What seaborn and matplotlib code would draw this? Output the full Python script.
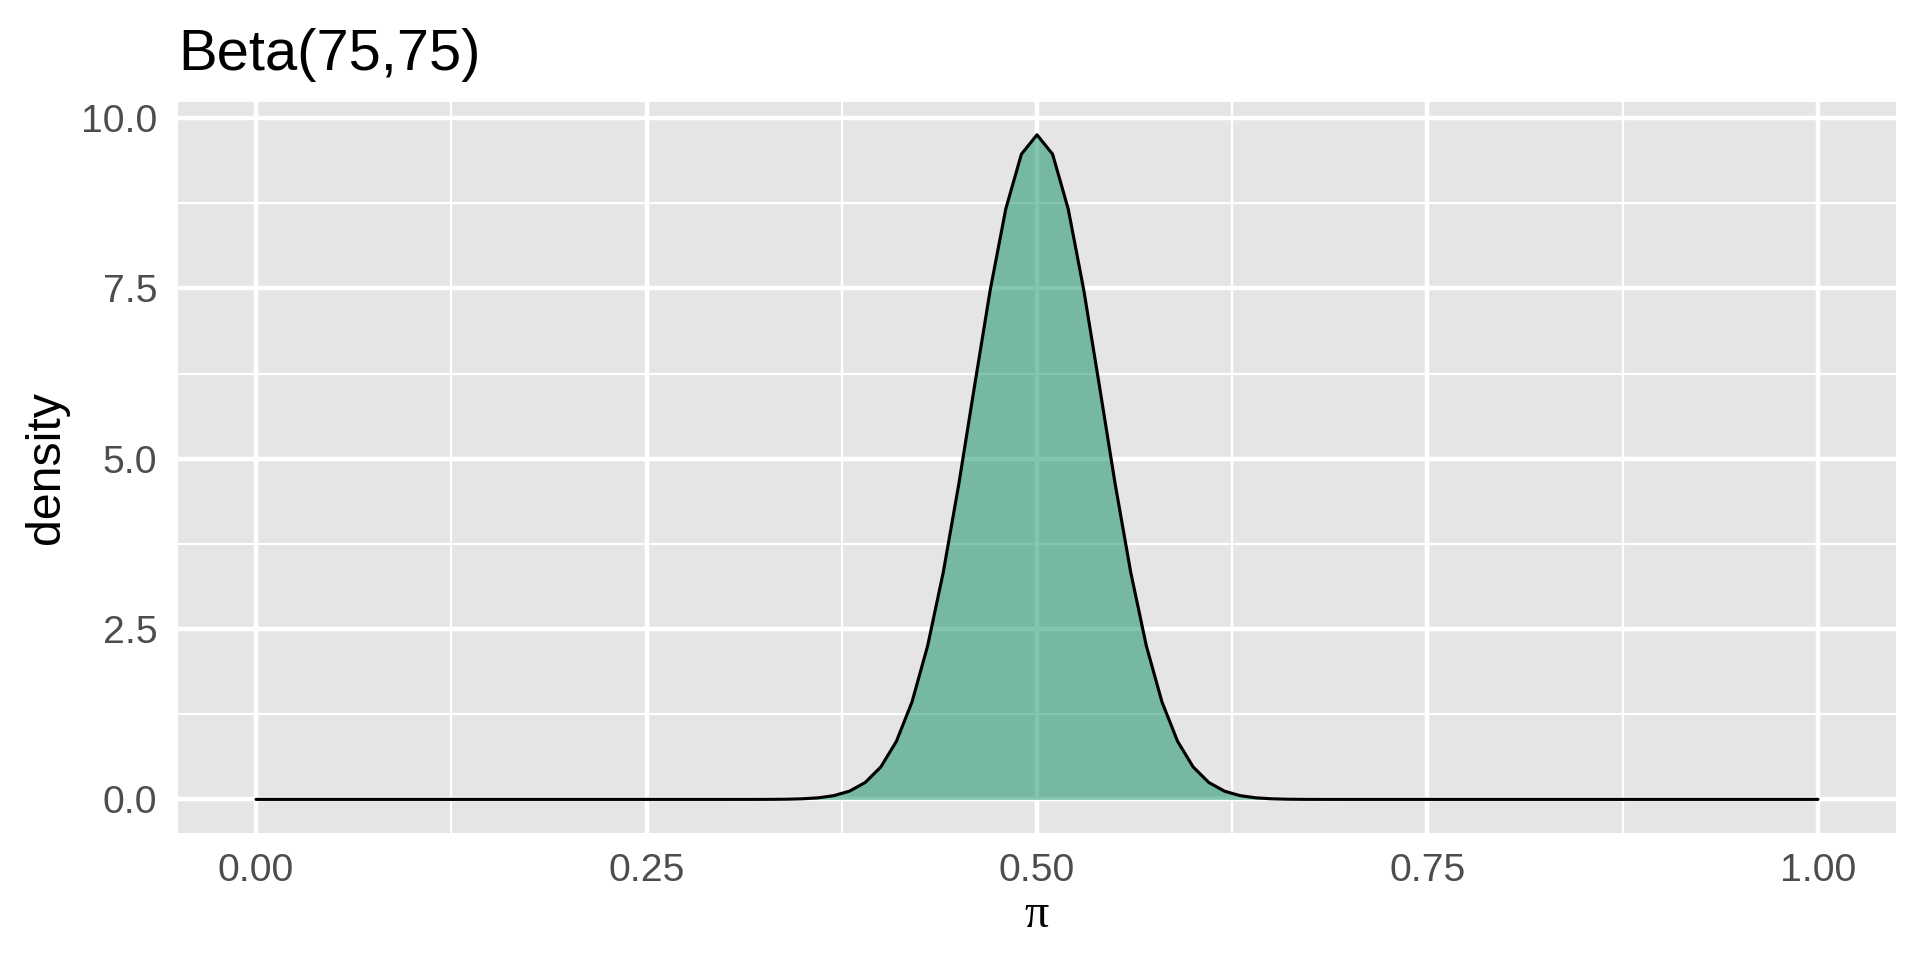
import matplotlib
matplotlib.use("Agg")
import matplotlib.pyplot as plt
import seaborn as sns
import pandas as pd

# Beta(75,75) density (0 outside 0.30-0.70)
pi_vals = [0.00,
           0.30, 0.31, 0.32, 0.33, 0.34, 0.35, 0.36, 0.37, 0.38, 0.39,
           0.40, 0.41, 0.42, 0.43, 0.44, 0.45, 0.46, 0.47, 0.48, 0.49,
           0.50,
           0.51, 0.52, 0.53, 0.54, 0.55, 0.56, 0.57, 0.58, 0.59, 0.60,
           0.61, 0.62, 0.63, 0.64, 0.65, 0.66, 0.67, 0.68, 0.69, 0.70,
           1.00]
density = [0.0,
           0.0, 0.0001, 0.0003, 0.001, 0.003, 0.009, 0.023, 0.055, 0.121, 0.248,
           0.476, 0.853, 1.432, 2.255, 3.335, 4.637, 6.066, 7.471, 8.666, 9.471,
           9.756,
           9.471, 8.666, 7.471, 6.066, 4.637, 3.335, 2.255, 1.432, 0.853, 0.476,
           0.248, 0.121, 0.055, 0.023, 0.009, 0.003, 0.001, 0.0003, 0.0001, 0.0,
           0.0]
x_ticks = [0.00, 0.25, 0.50, 0.75, 1.00]
x_labels = ["0.00", "0.25", "0.50", "0.75", "1.00"]
y_ticks = [0.0, 2.5, 5.0, 7.5, 10.0]
y_labels = ["0.0", "2.5", "5.0", "7.5", "10.0"]

df = pd.DataFrame({"pi": pi_vals, "density": density})

sns.set_theme(style="darkgrid")
plt.rcParams["font.family"] = ["Liberation Sans", "DejaVu Sans"]

fig = plt.figure(figsize=(6.4, 3.2), dpi=300)
ax = fig.add_axes([0.0927, 0.1327, 0.8948, 0.7615])
ax.set_facecolor("#E5E5E5")
fig.patch.set_facecolor("white")

ax.fill_between(df["pi"], 0, df["density"], color="#0B8F5D", alpha=0.5,
                linewidth=0, zorder=2)
sns.lineplot(data=df, x="pi", y="density", color="black", linewidth=0.75,
             ax=ax, zorder=3)

ax.set_xlim(-0.05, 1.05)
ax.set_ylim(-0.4878, 10.2438)
ax.set_xticks(x_ticks)
ax.set_xticklabels(x_labels)
ax.set_yticks(y_ticks)
ax.set_yticklabels(y_labels)
ax.set_xticks([0.125, 0.375, 0.625, 0.875], minor=True)
ax.set_yticks([1.25, 3.75, 6.25, 8.75], minor=True)

ax.set_axisbelow(True)
ax.grid(which="major", color="white", linewidth=1.07, zorder=0)
ax.grid(which="minor", color="white", linewidth=0.53, zorder=0)
for s in ax.spines.values():
    s.set_visible(False)

ax.tick_params(axis="both", which="major", length=2.75, width=1.07,
               color="#333333", labelsize=9.4, labelcolor="#4D4D4D", pad=2.2)
ax.tick_params(axis="both", which="minor", length=0)

ax.set_xlabel("\u03c0", fontsize=11.6, family=["Liberation Serif", "DejaVu Serif"],
              color="black", labelpad=1)
ax.set_ylabel("density", fontsize=11.6, color="black", labelpad=3)

fig.text(0.0927, 0.927, "Beta(75,75)", fontsize=13.9, color="black",
         ha="left", va="baseline")

fig.savefig("out.png", dpi=300)
